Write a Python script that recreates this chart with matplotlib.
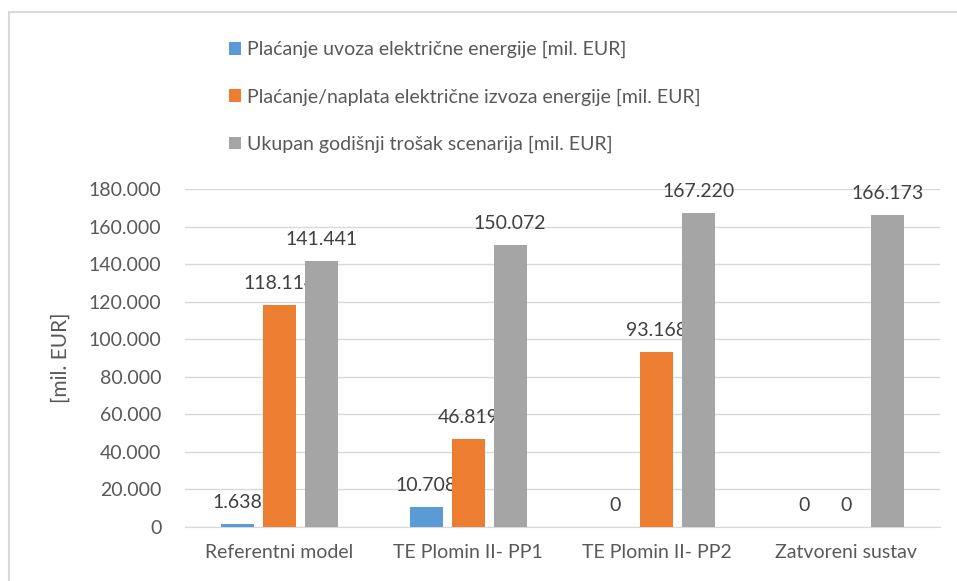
import numpy as np
import matplotlib.pyplot as plt
from matplotlib.patches import Rectangle
from matplotlib.ticker import FuncFormatter

plt.rcParams['font.family'] = ['Lato', 'DejaVu Sans']

scenarios = ['Referentni model', 'TE Plomin II- PP1', 'TE Plomin II- PP2', 'Zatvoreni sustav']
uvoz = [1638, 10708, 0, 0]
izvoz = [118114, 46819, 93168, 0]
ukupno = [141441, 150072, 167220, 166173]

series_names = ['Plaćanje uvoza električne energije [mil. EUR]',
                'Plaćanje/naplata električne izvoza energije [mil. EUR]',
                'Ukupan godišnji trošak scenarija [mil. EUR]']
colors = ['#5b9bd5', '#ed7d31', '#a5a5a5']


def fmt(v):
    return f'{int(round(v)):,}'.replace(',', '.')


def main():
    fig = plt.figure(figsize=(9.57, 5.81), dpi=100)
    ax = fig.add_axes([0.1933, 0.0929, 0.789, 0.5818])

    x = np.arange(len(scenarios))
    width = 0.175
    step = 0.222
    for i, (vals, name, c) in enumerate(zip([uvoz, izvoz, ukupno], series_names, colors)):
        pos = x + (i - 1) * step
        bars = ax.bar(pos, vals, width, color=c, label=name, zorder=3)
        for b, v in zip(bars, vals):
            ax.annotate(fmt(v), (b.get_x() + b.get_width() / 2, v),
                        xytext=(0, 9.5), textcoords='offset points',
                        ha='center', va='bottom', fontsize=14, color='#404040')

    ax.set_xlim(-0.5, 3.5)
    ax.set_ylim(0, 180000)
    ax.set_yticks(np.arange(0, 180001, 20000))
    ax.yaxis.set_major_formatter(FuncFormatter(lambda v, p: fmt(v)))
    ax.set_xticks(x)
    ax.set_xticklabels(scenarios)
    ax.grid(axis='y', color='#d9d9d9', lw=1, zorder=0)
    for s in ['top', 'right', 'left']:
        ax.spines[s].set_visible(False)
    ax.spines['bottom'].set_color('#d9d9d9')
    ax.tick_params(axis='both', length=0, labelsize=14, colors='#595959')
    ax.tick_params(axis='x', pad=12)
    ax.tick_params(axis='y', pad=17)
    # y label placed by hand, sits close to the tick labels
    fig.text(61 / 957, 1 - 358 / 581, '[mil. EUR]', rotation=90, ha='center',
             va='center', fontsize=15, color='#595959')

    leg = ax.legend(loc='upper left', bbox_to_anchor=(221 / 957, 1 - 33 / 581),
                    bbox_transform=fig.transFigure, frameon=False, fontsize=14,
                    handlelength=0.65, handleheight=0.65, handletextpad=0.3,
                    labelspacing=1.55, borderaxespad=0)
    for t in leg.get_texts():
        t.set_color('#595959')

    fig.patches.append(Rectangle((9 / 957, -0.1), 1.2, 1 - 12 / 581 + 0.1,
                                 transform=fig.transFigure, fill=False,
                                 edgecolor='#d9d9d9', lw=1.5))

    fig.savefig('out.png', dpi=100)


if __name__ == "__main__":
    main()
